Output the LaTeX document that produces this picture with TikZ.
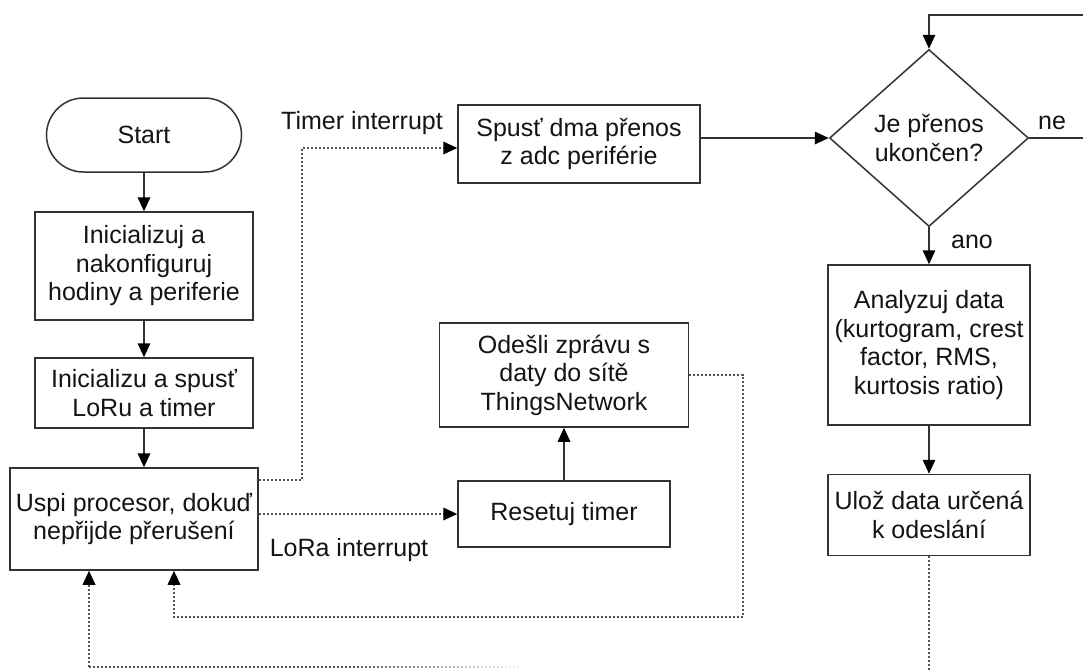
\documentclass[tikz,border=0pt]{standalone}
\usepackage{fontspec}
\setmainfont{Liberation Sans}
\usetikzlibrary{shapes.geometric,arrows.meta}

\definecolor{ink}{HTML}{141414}
\definecolor{edge}{HTML}{333333}
\definecolor{dotgray}{HTML}{555555}

\begin{document}
\begin{tikzpicture}[x=1pt,y=-1pt,
  every node/.style={font=\fontsize{25}{28.5}\selectfont, text=ink},
  procbox/.style={draw=edge, line width=1.5pt, fill=white, align=center, inner sep=0pt},
  decision/.style={procbox, diamond, aspect=1.124, minimum width=199pt, minimum height=177pt},
  tip/.style={-{Triangle[length=14pt,width=12.5pt,color=black]}},
  flowline/.style={draw=edge, line width=1.5pt},
  flowarrow/.style={flowline, tip},
  dotlink/.style={draw=dotgray, line width=1.8pt, dash pattern=on 2.2pt off 1.8pt},
  dotarrow/.style={dotlink, tip},
  lbl/.style={inner sep=0pt},
]
\path[fill=white, use as bounding box] (0,0) rectangle (1083,670);

% left column: start-up sequence
\node[procbox, rounded corners=37pt, minimum width=195pt, minimum height=74pt] (start) at (144,135) {Start};
\node[procbox, minimum width=218pt, minimum height=108pt] (init) at (144,266) {Inicializuj a\\nakonfiguruj\\hodiny a periferie};
\node[procbox, minimum width=218pt, minimum height=70pt] (lora) at (144,393) {Inicializu a spusť\\LoRu a timer};
\node[procbox, minimum width=248pt, minimum height=102pt] (uspi) at (134,519) {Uspi procesor, dokuď\\nepřijde přerušení};

% middle column
\node[procbox, minimum width=242pt, minimum height=78pt] (spust) at (579,144) {Spusť dma přenos\\z adc periférie};
\node[procbox, minimum width=249pt, minimum height=104pt] (odesli) at (564,375) {Odešli zprávu s\\daty do sítě\\ThingsNetwork};
\node[procbox, minimum width=212pt, minimum height=66pt] (reset) at (564,514) {Resetuj timer};

% right column: measurement processing
\node[decision] (dia) at (929,138) {Je přenos\\ukončen?};
\node[procbox, minimum width=202pt, minimum height=160pt] (ana) at (929,345) {Analyzuj data\\(kurtogram, crest\\factor, RMS,\\kurtosis ratio)};
\node[procbox, minimum width=202pt, minimum height=81pt] (uloz) at (929,515) {Ulož data určená\\k odeslání};

% labels
\node[lbl] (tlbl) at (362,123) {Timer interrupt};
\node[lbl] (llbl) at (349,550) {LoRa interrupt};
\node[lbl] (nelbl) at (1052,123) {ne};
\node[lbl] (anolbl) at (972,242) {ano};

% solid flow
\draw[flowarrow] (start) -- (init);
\draw[flowarrow] (init) -- (lora);
\draw[flowarrow] (lora.south) -- (lora.south |- uspi.north);
\draw[flowarrow] (spust.east |- dia.west) -- (dia.west);
\draw[flowarrow] (dia.south) -- (ana.north);
\draw[flowarrow] (ana) -- (uloz);
\draw[flowarrow] (reset) -- (odesli);
\coordinate (loopR) at (1086,15);
\draw[flowarrow] (dia.east) -| (loopR) -| (dia.north);

% interrupt paths (dotted)
\coordinate (tcorner) at (302,148);
\draw[dotarrow] ([yshift=39pt]uspi.east) -| (tcorner) -- (tcorner -| spust.west);
\draw[dotarrow] (uspi.east |- reset.west) -- (reset.west);
\coordinate (sendR) at (743,617);
\draw[dotarrow] (odesli.east) -| (sendR) -| ([xshift=40pt]uspi.south);
\coordinate (back) at (89,667);
\draw[dotarrow] (back) -- (back |- uspi.south);
\draw[dotlink] (back) -- ++(272,0) coordinate (fadeA);
\foreach \k in {0,...,7} {
  \draw[dotlink, draw opacity={1-(\k+1)/9}] ([xshift=20*\k pt]fadeA) -- ++(20,0);
}
\draw[dotlink] (uloz.south) -- ++(0,120);
\end{tikzpicture}
\end{document}
